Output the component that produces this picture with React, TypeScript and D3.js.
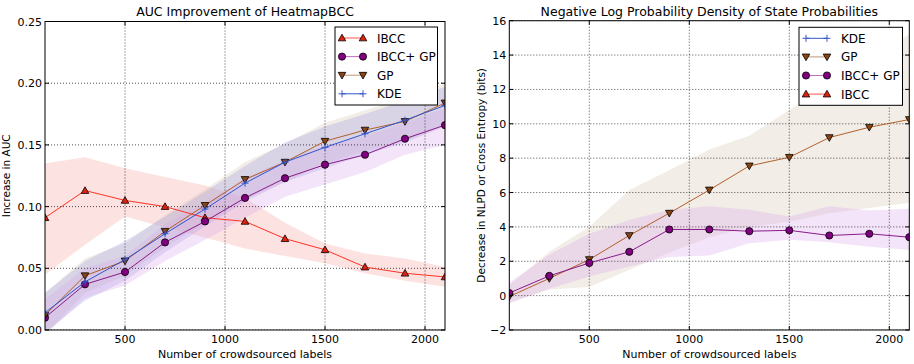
import React from "react";
import * as d3 from "d3";

const labels = [100, 300, 500, 700, 900, 1100, 1300, 1500, 1700, 1900, 2100];
const xTicks = [500, 1000, 1500, 2000];
const aucTicks = [0, 0.05, 0.1, 0.15, 0.2, 0.25];
const nlpdTicks = [-2, 0, 2, 4, 6, 8, 10, 12, 14, 16];

// AUC panel
const aucIBCC = [0.091, 0.113, 0.105, 0.1, 0.091, 0.088, 0.074, 0.065, 0.051, 0.046, 0.043];
const aucIBCCLo = [0.045, 0.069, 0.092, 0.083, 0.075, 0.066, 0.06, 0.054, 0.046, 0.04, 0.035];
const aucIBCCHi = [0.135, 0.14, 0.131, 0.124, 0.117, 0.107, 0.087, 0.07, 0.062, 0.058, 0.051];
const aucIBCCGP = [0.01, 0.037, 0.047, 0.071, 0.088, 0.107, 0.123, 0.134, 0.142, 0.155, 0.166];
const aucIBCCGPLo = [-0.004, 0.026, 0.036, 0.056, 0.073, 0.091, 0.108, 0.118, 0.128, 0.142, 0.15];
const aucIBCCGPHi = [0.025, 0.05, 0.06, 0.086, 0.103, 0.123, 0.138, 0.15, 0.157, 0.168, 0.18];
const aucGP = [0.012, 0.044, 0.056, 0.08, 0.101, 0.122, 0.136, 0.153, 0.162, 0.169, 0.184];
const aucGPLo = [-0.004, 0.03, 0.044, 0.067, 0.087, 0.106, 0.12, 0.135, 0.145, 0.153, 0.166];
const aucGPHi = [0.03, 0.058, 0.07, 0.093, 0.114, 0.136, 0.151, 0.168, 0.178, 0.188, 0.2];
const aucKDE = [0.014, 0.039, 0.057, 0.078, 0.098, 0.119, 0.136, 0.148, 0.159, 0.17, 0.182];
const aucKDELo = [-0.002, 0.024, 0.04, 0.063, 0.084, 0.104, 0.12, 0.131, 0.142, 0.152, 0.165];
const aucKDEHi = [0.03, 0.056, 0.072, 0.092, 0.112, 0.133, 0.152, 0.165, 0.175, 0.186, 0.197];

// NLPD panel
const nlpdGP = [-0.05, 1.0, 2.1, 3.5, 4.8, 6.15, 7.55, 8.05, 9.2, 9.8, 10.25];
const nlpdGPLo = [-0.4, 0.35, 0.5, 1.5, 2.5, 3.4, 4.0, 4.3, 4.8, 5.1, 5.4];
const nlpdGPHi = [0.6, 2.55, 4.0, 6.15, 7.3, 8.5, 9.3, 10.8, 12.3, 13.8, 15.2];
const nlpdIBCCGP = [0.15, 1.15, 1.9, 2.55, 3.85, 3.85, 3.75, 3.8, 3.5, 3.6, 3.4];
const nlpdIBCCGPLo = [-0.45, 0.4, 1.12, 1.7, 2.25, 2.33, 3.05, 3.25, 3.1, 2.85, 2.65];
const nlpdIBCCGPHi = [0.75, 2.4, 3.6, 4.4, 5.0, 5.2, 5.0, 4.6, 5.2, 4.95, 5.05];

type Marker = "up" | "down" | "circle" | "plus";
interface Series {
  name: string;
  values: number[];
  lo?: number[];
  hi?: number[];
  line: string;
  legendLine: string;
  fill: string;
  band: string;
  marker: Marker;
}

const COL = {
  ibcc: { line: "#ff3322", legend: "#ff5544", fill: "#dd2211", band: "#f4a09a" },
  ibccgp: { line: "#8a1a8a", legend: "#c070c0", fill: "#800080", band: "#d6a6ec" },
  gp: { line: "#b0602a", legend: "#c09878", fill: "#8b4513", band: "#d8c2b0" },
  kde: { line: "#3355cc", legend: "#3355cc", fill: "#3355cc", band: "#9a9ae6" },
};

const mk = (m: Marker, x: number, y: number, s: Series, key: string) => {
  if (m === "circle")
    return <circle key={key} cx={x} cy={y} r={3.6} fill={s.fill} stroke="#000" strokeWidth={0.8} />;
  if (m === "plus")
    return (
      <path key={key} d={`M${x - 3.5},${y}H${x + 3.5}M${x},${y - 3.5}V${y + 3.5}`} stroke={s.fill} strokeWidth={1} />
    );
  const h = 3.8;
  const d =
    m === "up"
      ? `M${x},${y - h}L${x + h},${y + h * 0.75}L${x - h},${y + h * 0.75}Z`
      : `M${x},${y + h}L${x + h},${y - h * 0.75}L${x - h},${y - h * 0.75}Z`;
  return <path key={key} d={d} fill={s.fill} stroke="#000" strokeWidth={0.8} />;
};

const Panel = (p: {
  id: string;
  left: number;
  right: number;
  top: number;
  bottom: number;
  yDomain: [number, number];
  yTicks: number[];
  yFmt: (v: number) => string;
  title: string;
  yLabel: string;
  yLabelX: number;
  bands: Series[];
  lines: Series[];
  legend: Series[];
  legendBox: [number, number, number, number];
}) => {
  const x = d3.scaleLinear().domain([100, 2100]).range([p.left, p.right]);
  const y = d3.scaleLinear().domain(p.yDomain).range([p.bottom, p.top]);
  const line = d3
    .line<number>()
    .x((_, i) => x(labels[i]))
    .y((d) => y(d));
  const area = (lo: number[], hi: number[]) =>
    d3
      .area<number>()
      .x((_, i) => x(labels[i]))
      .y0((_, i) => y(lo[i]))
      .y1((_, i) => y(hi[i]))(lo) || "";
  const [bx, by, bw, bh] = p.legendBox;
  const clip = `clip-${p.id}`;
  return (
    <g fontFamily="DejaVu Sans, sans-serif">
      <defs>
        <clipPath id={clip}>
          <rect x={p.left} y={p.top} width={p.right - p.left} height={p.bottom - p.top} />
        </clipPath>
      </defs>
      <g clipPath={`url(#${clip})`}>
        {p.bands.map((s) => (
          <path key={s.name} d={area(s.lo!, s.hi!)} fill={s.band} fillOpacity={0.3} />
        ))}
        {xTicks.map((t) => (
          <line key={t} x1={x(t)} x2={x(t)} y1={p.top} y2={p.bottom} stroke="#000" strokeWidth={0.7} strokeDasharray="1,2" />
        ))}
        {p.yTicks.map((t) => (
          <line key={t} x1={p.left} x2={p.right} y1={y(t)} y2={y(t)} stroke="#000" strokeWidth={0.7} strokeDasharray="1,2" />
        ))}
        {p.lines.map((s) => (
          <g key={s.name}>
            <path d={line(s.values) || ""} fill="none" stroke={s.line} strokeWidth={1} />
            {s.values.map((v, i) => mk(s.marker, x(labels[i]), y(v), s, `${s.name}${i}`))}
          </g>
        ))}
      </g>
      <rect x={p.left} y={p.top} width={p.right - p.left} height={p.bottom - p.top} fill="none" stroke="#000" strokeWidth={1} />
      {xTicks.map((t) => (
        <g key={t}>
          <line x1={x(t)} x2={x(t)} y1={p.bottom} y2={p.bottom - 4} stroke="#000" />
          <line x1={x(t)} x2={x(t)} y1={p.top} y2={p.top + 4} stroke="#000" />
          <text x={x(t)} y={p.bottom + 13} textAnchor="middle" fontSize={11}>
            {t}
          </text>
        </g>
      ))}
      {p.yTicks.map((t) => (
        <g key={t}>
          <line x1={p.left} x2={p.left + 4} y1={y(t)} y2={y(t)} stroke="#000" />
          <line x1={p.right} x2={p.right - 4} y1={y(t)} y2={y(t)} stroke="#000" />
          <text x={p.left - 3} y={y(t) + 4} textAnchor="end" fontSize={11}>
            {p.yFmt(t)}
          </text>
        </g>
      ))}
      <text x={(p.left + p.right) / 2} y={16} textAnchor="middle" fontSize={12.5}>
        {p.title}
      </text>
      <text x={(p.left + p.right) / 2} y={358} textAnchor="middle" fontSize={11}>
        Number of crowdsourced labels
      </text>
      <text
        transform={`translate(${p.yLabelX},${(p.top + p.bottom) / 2}) rotate(-90)`}
        textAnchor="middle"
        fontSize={10.5}
      >
        {p.yLabel}
      </text>
      <rect x={bx} y={by} width={bw} height={bh} fill="#fff" stroke="#000" strokeWidth={1} />
      {p.legend.map((s, i) => {
        const ly = by + 11 + i * 18.6;
        const x0 = bx + 7;
        const x1 = bx + 28;
        return (
          <g key={s.name}>
            <line x1={x0} x2={x1} y1={ly} y2={ly} stroke={s.legendLine} strokeWidth={1} />
            {mk(s.marker, x0, ly, s, "a")}
            {mk(s.marker, x1, ly, s, "b")}
            <text x={bx + 42} y={ly + 4.5} fontSize={12}>
              {s.name}
            </text>
          </g>
        );
      })}
    </g>
  );
};

const sIBCC = (v: number[], lo?: number[], hi?: number[]): Series => ({
  name: "IBCC", values: v, lo, hi, line: COL.ibcc.line, legendLine: COL.ibcc.legend, fill: COL.ibcc.fill, band: COL.ibcc.band, marker: "up",
});
const sIBCCGP = (v: number[], lo?: number[], hi?: number[]): Series => ({
  name: "IBCC+ GP", values: v, lo, hi, line: COL.ibccgp.line, legendLine: COL.ibccgp.legend, fill: COL.ibccgp.fill, band: COL.ibccgp.band, marker: "circle",
});
const sGP = (v: number[], lo?: number[], hi?: number[]): Series => ({
  name: "GP", values: v, lo, hi, line: COL.gp.line, legendLine: COL.gp.legend, fill: COL.gp.fill, band: COL.gp.band, marker: "down",
});
const sKDE = (v: number[], lo?: number[], hi?: number[]): Series => ({
  name: "KDE", values: v, lo, hi, line: COL.kde.line, legendLine: COL.kde.legend, fill: COL.kde.fill, band: COL.kde.band, marker: "plus",
});

export default function App() {
  const aI = sIBCC(aucIBCC, aucIBCCLo, aucIBCCHi);
  const aIG = sIBCCGP(aucIBCCGP, aucIBCCGPLo, aucIBCCGPHi);
  const aG = sGP(aucGP, aucGPLo, aucGPHi);
  const aK = sKDE(aucKDE, aucKDELo, aucKDEHi);
  const nG = sGP(nlpdGP, nlpdGPLo, nlpdGPHi);
  const nIG = sIBCCGP(nlpdIBCCGP, nlpdIBCCGPLo, nlpdIBCCGPHi);
  return (
    <svg width={914} height={364} style={{ position: "absolute", left: 0, top: 0, background: "#fff" }}>
      <Panel
        id="auc"
        left={45}
        right={445}
        top={21.5}
        bottom={330}
        yDomain={[0, 0.25]}
        yTicks={aucTicks}
        yFmt={(v) => v.toFixed(2)}
        title="AUC Improvement of HeatmapBCC"
        yLabel="Increase in AUC"
        yLabelX={10}
        bands={[aI, aG, aK, aIG]}
        lines={[aI, aIG, aG, aK]}
        legend={[aI, aIG, aG, aK]}
        legendBox={[335, 27, 102.5, 78]}
      />
      <Panel
        id="nlpd"
        left={509.3}
        right={909.3}
        top={20.7}
        bottom={330}
        yDomain={[-2, 16]}
        yTicks={nlpdTicks}
        yFmt={(v) => (v < 0 ? `\u2212${-v}` : `${v}`)}
        title="Negative Log Probability Density of State Probabilities"
        yLabel="Decrease in NLPD or Cross Entropy (bits)"
        yLabelX={485}
        bands={[nG, nIG]}
        lines={[nG, nIG]}
        legend={[sKDE([]), sGP([]), sIBCCGP([]), sIBCC([])]}
        legendBox={[799, 27.3, 103.5, 78]}
      />
    </svg>
  );
}
